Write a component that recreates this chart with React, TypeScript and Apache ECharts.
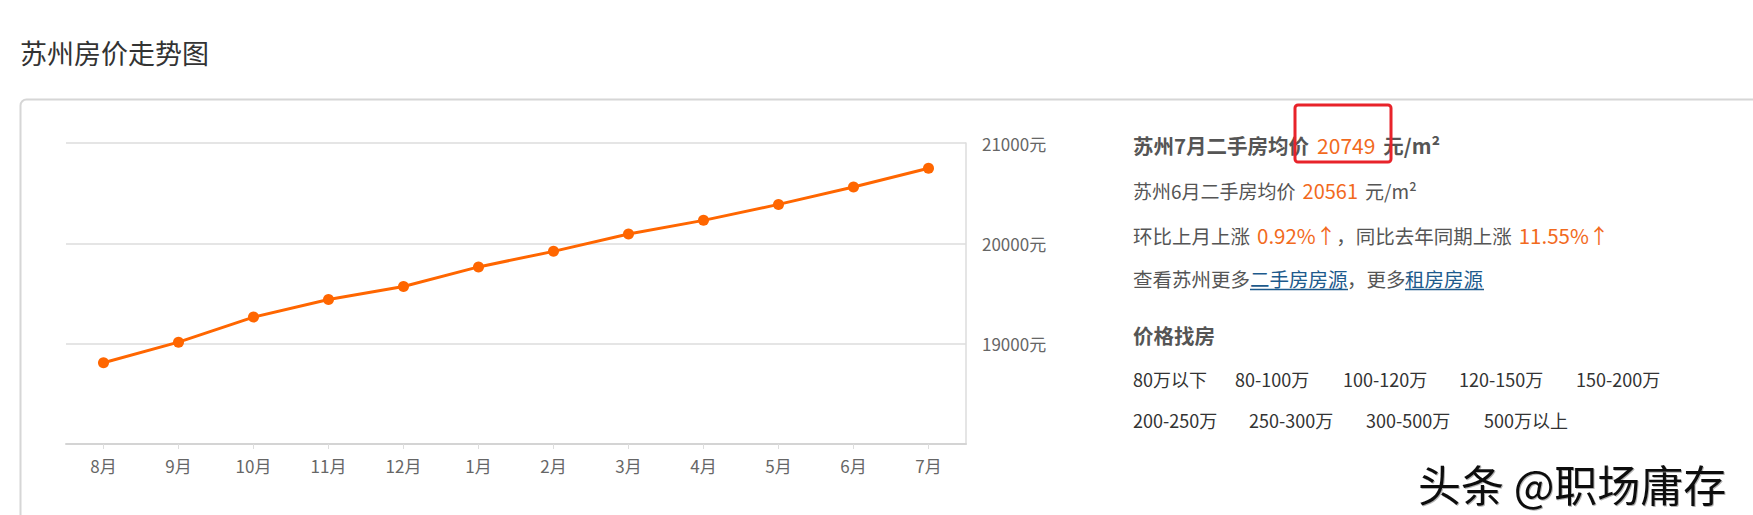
import React, { useEffect, useRef } from "react";
import * as echarts from "echarts";

const months = ["8月", "9月", "10月", "11月", "12月", "1月", "2月", "3月", "4月", "5月", "6月", "7月"];
const prices = [18810, 19015, 19265, 19440, 19570, 19765, 19920, 20093, 20229, 20388, 20561, 20749];
const yTicks = { min: 18000, max: 21000, interval: 1000 };
const titleText = "苏州房价走势图";
const curMonth = "7月";
const curPrice = "20749";
const prevMonth = "6月";
const prevPrice = "20561";
const momRate = "0.92%↑";
const yoyRate = "11.55%↑";
const priceRow1 = ["80万以下", "80-100万", "100-120万", "120-150万", "150-200万"];
const priceRow2 = ["200-250万", "250-300万", "300-500万", "500万以上"];
const watermark = "头条 @职场庸存";

const FONT = "'Noto Sans CJK SC', 'Microsoft YaHei', sans-serif";
const ORANGE = "#f26a1d";
const GRAY = "#555";
const LINK = "#1d5a8c";

export default function App() {
  const ref = useRef<HTMLDivElement>(null);
  useEffect(() => {
    if (!ref.current) return;
    const chart = echarts.init(ref.current, undefined, { renderer: "svg" });
    const row1X = [1133, 1235, 1343, 1459, 1576];
    const row2X = [1133, 1249, 1366, 1484];
    const seg = (text: string, x: number, y: number, fill: string, size = 19, weight = "normal") => ({
      type: "text", x, y,
      style: { text, verticalAlign: "middle", font: `${weight} ${size}px ${FONT}`, fill },
    });
    const graphic: any[] = [
      { type: "rect", shape: { x: 20.5, y: 99.5, width: 1800, height: 600, r: 6 }, style: { fill: "#fff", stroke: "#d6d6d6", lineWidth: 2 }, z: -10 },
      { type: "text", left: 20, top: 39, style: { text: titleText, font: `400 27px ${FONT}`, fill: "#333" } },
      {
        type: "text", x: 1133, y: 145,
        style: {
          text: `{a|苏州${curMonth}二手房均价}{s| }{b|${curPrice}}{s| }{a|元/m²}`,
          verticalAlign: "middle",
          rich: {
            a: { fontFamily: FONT, fontSize: 20.5, fontWeight: "bold", fill: GRAY },
            b: { fontFamily: FONT, fontSize: 21, fontWeight: "normal", fill: ORANGE },
            s: { fontFamily: FONT, fontSize: 21, width: 8 },
          },
        },
      },
      {
        type: "text", x: 1133, y: 190,
        style: {
          text: `{a|苏州${prevMonth}二手房均价}{s| }{b|${prevPrice}}{s| }{a|元/m²}`,
          verticalAlign: "middle",
          rich: {
            a: { fontFamily: FONT, fontSize: 19, fill: GRAY },
            b: { fontFamily: FONT, fontSize: 20, fill: ORANGE },
            s: { fontFamily: FONT, fontSize: 19, width: 7 },
          },
        },
      },
      {
        type: "text", x: 1133, y: 235,
        style: {
          text: `{a|环比上月上涨}{s| }{b|${momRate}}{a|，同比去年同期上涨}{s| }{b|${yoyRate}}`,
          verticalAlign: "middle",
          rich: {
            a: { fontFamily: FONT, fontSize: 19.5, fill: GRAY },
            b: { fontFamily: FONT, fontSize: 20.5, fill: ORANGE },
            s: { fontFamily: FONT, fontSize: 19, width: 7 },
          },
        },
      },
      seg("查看苏州更多", 1133, 278, GRAY, 19.5),
      seg("二手房房源", 1250, 278, LINK, 19.5),
      seg("，更多", 1347, 278, GRAY, 19.5),
      seg("租房房源", 1405, 278, LINK, 19.5),
      { type: "line", shape: { x1: 1250, y1: 289.5, x2: 1348, y2: 289.5 }, style: { stroke: LINK, lineWidth: 1.5 } },
      { type: "line", shape: { x1: 1405, y1: 289.5, x2: 1484, y2: 289.5 }, style: { stroke: LINK, lineWidth: 1.5 } },
      seg("价格找房", 1133, 335, GRAY, 20.5, "bold"),
      ...priceRow1.map((t, i) => seg(t, row1X[i], 379, "#333", 18)),
      ...priceRow2.map((t, i) => seg(t, row2X[i], 420, "#333", 18)),
      { type: "rect", shape: { x: 1295, y: 105, width: 96, height: 57, r: 3 }, style: { fill: "none", stroke: "#e8232a", lineWidth: 3 }, z: 10 },
      { type: "text", x: 1418, y: 483, style: { text: watermark, verticalAlign: "middle", font: `43px ${FONT}`, fill: "#111", textShadowColor: "rgba(0,0,0,0.3)", textShadowBlur: 1, textShadowOffsetX: 1, textShadowOffsetY: 1 } },
    ];
    chart.setOption({
      animation: false,
      backgroundColor: "#fff",
      grid: { left: 66, top: 143, width: 900, height: 301 },
      xAxis: {
        type: "category",
        data: months,
        boundaryGap: true,
        axisLine: { lineStyle: { color: "#d4d4d4", width: 2 } },
        axisTick: { show: true, alignWithLabel: true, length: 5, lineStyle: { color: "#ddd" } },
        axisLabel: { color: "#666", fontSize: 17, fontFamily: FONT, margin: 13 },
        splitLine: { show: false },
      },
      yAxis: {
        type: "value",
        position: "right",
        min: yTicks.min,
        max: yTicks.max,
        interval: yTicks.interval,
        axisLine: { show: true, lineStyle: { color: "#ddd", width: 1.5 } },
        axisTick: { show: false },
        axisLabel: { color: "#666", fontSize: 17, fontFamily: FONT, margin: 16, showMinLabel: false, formatter: (v: number) => `${v}元` },
        splitLine: { lineStyle: { color: "#dcdcdc", width: 1.5 } },
      },
      series: [
        {
          type: "line",
          data: prices,
          symbol: "circle",
          symbolSize: 11,
          itemStyle: { color: "#f60" },
          lineStyle: { color: "#f60", width: 3 },
        },
      ],
      graphic,
    });
    return () => chart.dispose();
  }, []);
  return <div ref={ref} style={{ position: "absolute", left: 0, top: 0, width: 1753, height: 515 }} />;
}
